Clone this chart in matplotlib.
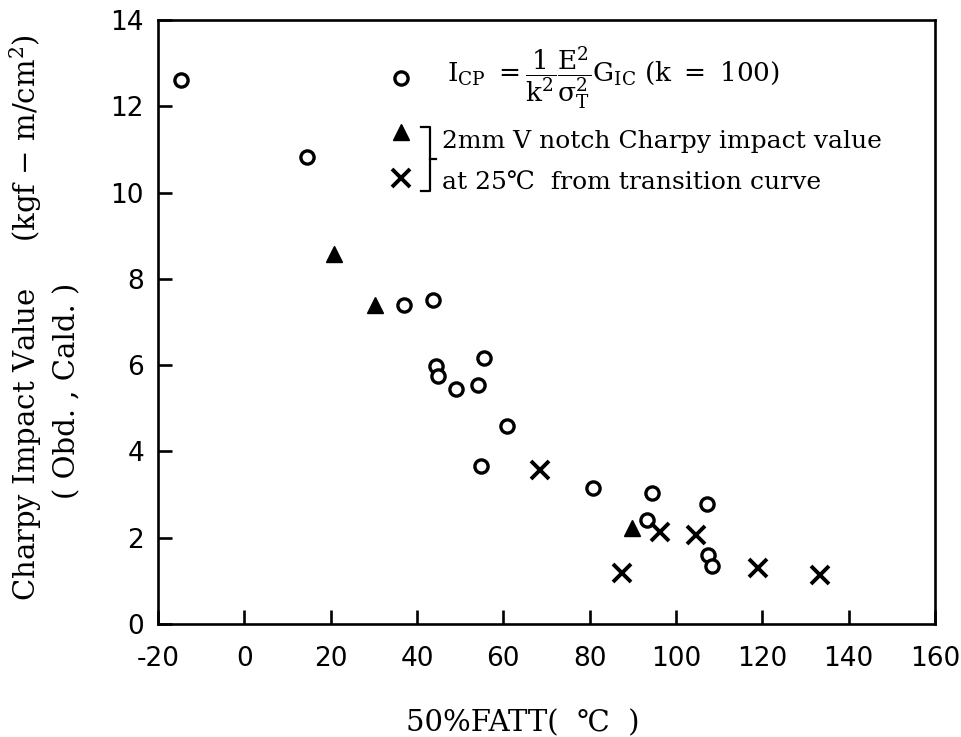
import matplotlib
matplotlib.use("Agg")
import matplotlib.pyplot as plt

# ---- data ----
circ_x = [-14.7, 14.5, 37.0, 43.7, 44.4, 44.9, 49.0, 55.5, 54.1, 60.8, 54.8, 80.8, 94.4, 93.3, 107.2, 107.5, 108.4]
circ_y = [12.62, 10.83, 7.39, 7.51, 5.98, 5.75, 5.45, 6.17, 5.54, 4.59, 3.66, 3.15, 3.04, 2.42, 2.78, 1.60, 1.34]

tri_x = [20.8, 30.3, 89.7]
tri_y = [8.58, 7.39, 2.22]

cross_x = [68.5, 87.6, 96.3, 104.6, 118.9, 133.4]
cross_y = [3.57, 1.19, 2.14, 2.06, 1.29, 1.14]

x_ticks = [-20, 0, 20, 40, 60, 80, 100, 120, 140, 160]
y_ticks = [0, 2, 4, 6, 8, 10, 12, 14]

plt.rcParams['mathtext.fontset'] = 'dejavuserif'
plt.rcParams['axes.unicode_minus'] = False
SERIF = ['DejaVu Serif', 'Noto Sans CJK JP']

fig = plt.figure(figsize=(9.62, 7.37), dpi=100)
ax = fig.add_axes([0.1642, 0.1533, 0.8078, 0.8196])

ax.plot(circ_x, circ_y, linestyle='none', marker='o', markersize=9.5,
        markerfacecolor='white', markeredgecolor='black', markeredgewidth=2.4)
ax.plot(tri_x, tri_y, linestyle='none', marker='^', markersize=12,
        color='black')
ax.plot(cross_x, cross_y, linestyle='none', marker='x', markersize=13,
        color='black', markeredgewidth=2.8)

ax.set_xlim(-20, 160)
ax.set_ylim(0, 14)
ax.set_xticks(x_ticks)
ax.set_yticks(y_ticks)
ax.tick_params(direction='in', length=10, width=1.9, labelsize=19,
               top=False, right=False)
ax.tick_params(axis='x', pad=16)
ax.tick_params(axis='y', pad=10)
for lab in ax.get_xticklabels() + ax.get_yticklabels():
    lab.set_family('DejaVu Sans')
for s in ax.spines.values():
    s.set_linewidth(1.9)

# ---- legend (drawn by hand) ----
ax.plot([0.3127], [0.904], transform=ax.transAxes, linestyle='none', marker='o',
        markersize=9.5, markerfacecolor='white', markeredgecolor='black',
        markeredgewidth=2.4, clip_on=False)
ax.plot([0.3127], [0.815], transform=ax.transAxes, linestyle='none', marker='^',
        markersize=12, color='black', clip_on=False)
ax.plot([0.3127], [0.738], transform=ax.transAxes, linestyle='none', marker='x',
        markersize=13, color='black', markeredgewidth=2.8, clip_on=False)

ax.text(0.372, 0.904,
        r'$\mathrm{I_{CP}}\ = \dfrac{1}{\mathrm{k^2}}\dfrac{\mathrm{E^2}}{\mathrm{σ}_\mathrm{T}^2}\mathrm{G_{IC}}\ (\mathrm{k}\ =\ 100)$',
        transform=ax.transAxes, ha='left', va='center', fontsize=19)
ax.text(0.3655, 0.798, '2mm V notch Charpy impact value', transform=ax.transAxes,
        ha='left', va='center', fontsize=18, family=SERIF)
ax.text(0.3655, 0.730, 'at 25℃  from transition curve', transform=ax.transAxes,
        ha='left', va='center', fontsize=18, family=SERIF)

# bracket
bx0, bx1 = 0.338, 0.350
ax.plot([bx0, bx1, bx1, bx0], [0.823, 0.823, 0.717, 0.717], transform=ax.transAxes,
        color='black', lw=1.6, clip_on=False)
ax.plot([bx1, bx1 + 0.008], [0.770, 0.770], transform=ax.transAxes,
        color='black', lw=1.6, clip_on=False)

# ---- axis labels ----
fig.text(0.5437, 0.008, '50%FATT(  ℃  )', ha='center', va='baseline', fontsize=21,
         family=SERIF)
fig.text(0.027, 0.569, r'Charpy Impact Value     (kgf $-$ m/cm$^2$)', rotation=90,
         ha='center', va='center', fontsize=21, family=SERIF)
fig.text(0.070, 0.4695, '( Obd. , Cald. )', rotation=90, ha='center', va='center',
         fontsize=21, family=SERIF)

fig.savefig('out.png', dpi=100)
